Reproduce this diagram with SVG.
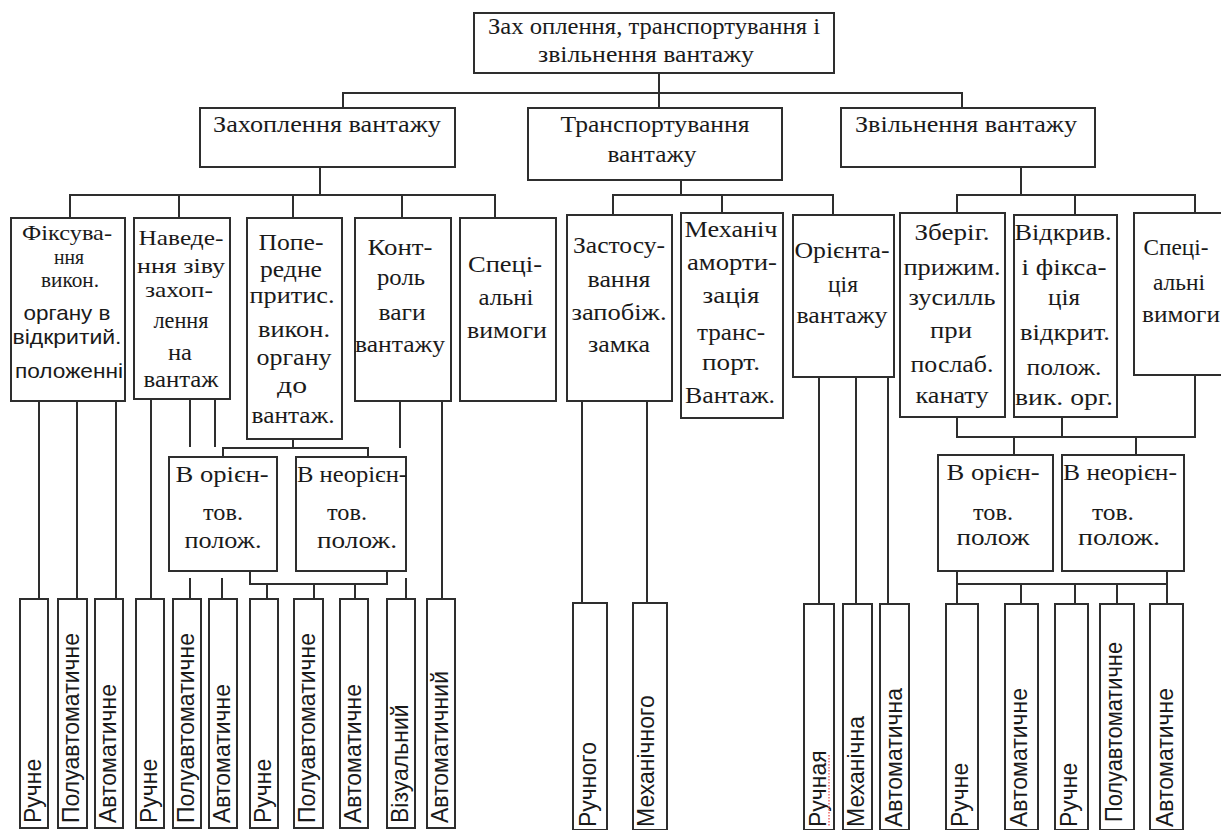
<svg xmlns="http://www.w3.org/2000/svg" width="1221" height="830" viewBox="0 0 1221 830">
<style>
.b{fill:#fff;stroke:#2e2e2e;stroke-width:2}
.c{fill:none;stroke:#2e2e2e;stroke-width:2}
.t{font-family:"Liberation Serif","Times New Roman","DejaVu Serif",serif;font-size:24px;fill:#1a1a1a;text-anchor:middle}
.k{font-size:21px}
.s{font-family:"Liberation Sans",Arial,sans-serif;font-size:21px;fill:#1a1a1a;text-anchor:middle}
.v{font-family:"Liberation Sans",Arial,sans-serif;font-size:23px;fill:#1a1a1a}
</style>
<rect width="1221" height="830" fill="#fff"/>
<g id="connectors">
<path class="c" d="M659,73V93M343,108V93H962V108M659,93V108"/>
<path class="c" d="M320,167V195M70,218V195H495V218M179,195V218M293,195V218M402,195V218"/>
<path class="c" d="M681,180V195M613,215V195H833V215M722,195V213"/>
<path class="c" d="M1021,167V195M957,213V195H1195V213M1075,195V215"/>
<path class="c" d="M39,401V599M77,401V599M116,401V599M151,399V599M190,399V447M215,399V447M190,578V599M222,578V599"/>
<path class="c" d="M293,439V448M223,457V448H368V457M250,571V584H387V571M267,584V599M314,584V599M355,584V599M406,578V599M400,401V448M442,401V599"/>
<path class="c" d="M582,401V603M647,401V603M819,377V604M856,377V604M888,377V604"/>
<path class="c" d="M957,417V437H1195V375M1062,417V437M1014,437V455M1136,437V455"/>
<path class="c" d="M957,571V604M957,584H1167V571M1021,584V604M1075,584V604M1117,584V604M1167,584V604"/>
</g>
<g id="root"><rect class="b" x="474" y="13" width="360" height="60"/>
<text class="t" x="654" y="34" textLength="332" lengthAdjust="spacingAndGlyphs">Зах оплення, транспортування і</text>
<text class="t" x="646" y="62" textLength="216" lengthAdjust="spacingAndGlyphs">звільнення вантажу</text></g>
<g id="capture"><rect class="b" x="200" y="108" width="255" height="59"/>
<text class="t" x="327" y="132" textLength="228" lengthAdjust="spacingAndGlyphs">Захоплення  вантажу</text></g>
<g id="transport"><rect class="b" x="528" y="108" width="254" height="72"/>
<text class="t" x="655" y="132" textLength="189" lengthAdjust="spacingAndGlyphs">Транспортування</text>
<text class="t" x="652" y="162" textLength="89" lengthAdjust="spacingAndGlyphs">вантажу</text></g>
<g id="release"><rect class="b" x="841" y="108" width="254" height="59"/>
<text class="t" x="966" y="132" textLength="222" lengthAdjust="spacingAndGlyphs">Звільнення вантажу</text></g>
<g id="n1"><rect class="b" x="11" y="218" width="114" height="183"/>
<text class="t k" x="67" y="240" textLength="90" lengthAdjust="spacingAndGlyphs">Фіксува-</text>
<text class="t k" x="69" y="264" textLength="30" lengthAdjust="spacingAndGlyphs">ння</text>
<text class="t k" x="70" y="287" textLength="58" lengthAdjust="spacingAndGlyphs">викон.</text>
<text class="s" x="67" y="320" textLength="87" lengthAdjust="spacingAndGlyphs">органу в</text>
<text class="s" x="67" y="344" textLength="109" lengthAdjust="spacingAndGlyphs">відкритий.</text>
<text class="s" x="69" y="378" textLength="108" lengthAdjust="spacingAndGlyphs">положенні</text></g>
<g id="n2"><rect class="b" x="134" y="218" width="96" height="181"/>
<text class="t k" x="181" y="245" textLength="85" lengthAdjust="spacingAndGlyphs">Наведе-</text>
<text class="t k" x="181" y="273" textLength="88" lengthAdjust="spacingAndGlyphs">ння зіву</text>
<text class="t k" x="179" y="297" textLength="68" lengthAdjust="spacingAndGlyphs">захоп-</text>
<text class="t" x="181" y="328" textLength="55" lengthAdjust="spacingAndGlyphs">лення</text>
<text class="t" x="180" y="360" textLength="24" lengthAdjust="spacingAndGlyphs">на</text>
<text class="t" x="181" y="387" textLength="75" lengthAdjust="spacingAndGlyphs">вантаж</text></g>
<g id="n3"><rect class="b" x="247" y="218" width="95" height="221"/>
<text class="t" x="291" y="250" textLength="65" lengthAdjust="spacingAndGlyphs">Попе-</text>
<text class="t" x="291" y="277" textLength="62" lengthAdjust="spacingAndGlyphs">редне</text>
<text class="t" x="292" y="303" textLength="85" lengthAdjust="spacingAndGlyphs">притис.</text>
<text class="t" x="294" y="337" textLength="72" lengthAdjust="spacingAndGlyphs">викон.</text>
<text class="t" x="294" y="365" textLength="75" lengthAdjust="spacingAndGlyphs">органу</text>
<text class="t" x="292" y="393" textLength="30" lengthAdjust="spacingAndGlyphs">до</text>
<text class="t" x="293" y="423" textLength="83" lengthAdjust="spacingAndGlyphs">вантаж.</text></g>
<g id="n4"><rect class="b" x="355" y="218" width="96" height="183"/>
<text class="t" x="400" y="255" textLength="65" lengthAdjust="spacingAndGlyphs">Конт-</text>
<text class="t" x="401" y="285" textLength="48" lengthAdjust="spacingAndGlyphs">роль</text>
<text class="t" x="402" y="320" textLength="47" lengthAdjust="spacingAndGlyphs">ваги</text>
<text class="t" x="400" y="352" textLength="90" lengthAdjust="spacingAndGlyphs">вантажу</text></g>
<g id="n5"><rect class="b" x="460" y="218" width="96" height="183"/>
<text class="t" x="505" y="272" textLength="74" lengthAdjust="spacingAndGlyphs">Спеці-</text>
<text class="t" x="506" y="305" textLength="55" lengthAdjust="spacingAndGlyphs">альні</text>
<text class="t" x="507" y="338" textLength="80" lengthAdjust="spacingAndGlyphs">вимоги</text></g>
<g id="n6"><rect class="b" x="567" y="215" width="105" height="186"/>
<text class="t" x="619" y="253" textLength="92" lengthAdjust="spacingAndGlyphs">Застосу-</text>
<text class="t" x="619" y="287" textLength="63" lengthAdjust="spacingAndGlyphs">вання</text>
<text class="t" x="619" y="320" textLength="95" lengthAdjust="spacingAndGlyphs">запобіж.</text>
<text class="t" x="619" y="352" textLength="62" lengthAdjust="spacingAndGlyphs">замка</text></g>
<g id="n7"><rect class="b" x="681" y="213" width="102" height="205"/>
<text class="t" x="731" y="237" textLength="93" lengthAdjust="spacingAndGlyphs">Механіч</text>
<text class="t" x="732" y="270" textLength="90" lengthAdjust="spacingAndGlyphs">аморти-</text>
<text class="t" x="731" y="303" textLength="57" lengthAdjust="spacingAndGlyphs">зація</text>
<text class="t" x="731" y="340" textLength="68" lengthAdjust="spacingAndGlyphs">транс-</text>
<text class="t" x="731" y="370" textLength="58" lengthAdjust="spacingAndGlyphs">порт.</text>
<text class="t" x="730" y="403" textLength="90" lengthAdjust="spacingAndGlyphs">Вантаж.</text></g>
<g id="n8"><rect class="b" x="793" y="215" width="101" height="162"/>
<text class="t" x="842" y="258" textLength="95" lengthAdjust="spacingAndGlyphs">Орієнта-</text>
<text class="t" x="843" y="292" textLength="30" lengthAdjust="spacingAndGlyphs">ція</text>
<text class="t" x="842" y="323" textLength="91" lengthAdjust="spacingAndGlyphs">вантажу</text></g>
<g id="n9"><rect class="b" x="900" y="213" width="105" height="204"/>
<text class="t" x="952" y="240" textLength="75" lengthAdjust="spacingAndGlyphs">Зберіг.</text>
<text class="t" x="952" y="275" textLength="97" lengthAdjust="spacingAndGlyphs">прижим.</text>
<text class="t" x="952" y="305" textLength="87" lengthAdjust="spacingAndGlyphs">зусилль</text>
<text class="t" x="951" y="338" textLength="42" lengthAdjust="spacingAndGlyphs">при</text>
<text class="t" x="952" y="372" textLength="83" lengthAdjust="spacingAndGlyphs">послаб.</text>
<text class="t" x="952" y="403" textLength="73" lengthAdjust="spacingAndGlyphs">канату</text></g>
<g id="n10"><rect class="b" x="1014" y="215" width="103" height="202"/>
<text class="t" x="1063" y="240" textLength="97" lengthAdjust="spacingAndGlyphs">Відкрив.</text>
<text class="t" x="1064" y="275" textLength="85" lengthAdjust="spacingAndGlyphs">і фікса-</text>
<text class="t" x="1064" y="305" textLength="32" lengthAdjust="spacingAndGlyphs">ція</text>
<text class="t" x="1065" y="340" textLength="90" lengthAdjust="spacingAndGlyphs">відкрит.</text>
<text class="t" x="1064" y="375" textLength="75" lengthAdjust="spacingAndGlyphs">полож.</text>
<text class="t" x="1064" y="405" textLength="98" lengthAdjust="spacingAndGlyphs">вик. орг.</text></g>
<g id="n11"><rect class="b" x="1134" y="213" width="96" height="162"/>
<text class="t" x="1176" y="255" textLength="65" lengthAdjust="spacingAndGlyphs">Спеці-</text>
<text class="t" x="1179" y="290" textLength="52" lengthAdjust="spacingAndGlyphs">альні</text>
<text class="t" x="1181" y="322" textLength="78" lengthAdjust="spacingAndGlyphs">вимоги</text></g>
<g id="o1"><rect class="b" x="169" y="457" width="108" height="114"/>
<text class="t" x="222" y="482" textLength="93" lengthAdjust="spacingAndGlyphs">В орієн-</text>
<text class="t" x="223" y="520" textLength="40" lengthAdjust="spacingAndGlyphs">тов.</text>
<text class="t" x="223" y="548" textLength="77" lengthAdjust="spacingAndGlyphs">полож.</text></g>
<g id="o2"><rect class="b" x="296" y="457" width="110" height="114"/>
<text class="t" x="352" y="482" textLength="110" lengthAdjust="spacingAndGlyphs">В неорієн-</text>
<text class="t" x="347" y="520" textLength="40" lengthAdjust="spacingAndGlyphs">тов.</text>
<text class="t" x="357" y="548" textLength="80" lengthAdjust="spacingAndGlyphs">полож.</text></g>
<g id="o3"><rect class="b" x="938" y="455" width="115" height="116"/>
<text class="t" x="993" y="480" textLength="93" lengthAdjust="spacingAndGlyphs">В орієн-</text>
<text class="t" x="993" y="520" textLength="40" lengthAdjust="spacingAndGlyphs">тов.</text>
<text class="t" x="993" y="545" textLength="73" lengthAdjust="spacingAndGlyphs">полож</text></g>
<g id="o4"><rect class="b" x="1062" y="455" width="122" height="116"/>
<text class="t" x="1120" y="480" textLength="114" lengthAdjust="spacingAndGlyphs">В неорієн-</text>
<text class="t" x="1113" y="520" textLength="42" lengthAdjust="spacingAndGlyphs">тов.</text>
<text class="t" x="1119" y="545" textLength="82" lengthAdjust="spacingAndGlyphs">полож.</text></g>
<g id="l1"><rect class="b" x="20" y="599" width="28" height="229"/><text class="v" transform="translate(41,823) rotate(-90)">Ручне</text></g>
<g id="l2"><rect class="b" x="58" y="599" width="29" height="229"/><text class="v" transform="translate(79,823) rotate(-90)">Полуавтоматичне</text></g>
<g id="l3"><rect class="b" x="95" y="599" width="28" height="229"/><text class="v" transform="translate(116,823) rotate(-90)">Автоматичне</text></g>
<g id="l4"><rect class="b" x="136" y="599" width="28" height="229"/><text class="v" transform="translate(157,823) rotate(-90)">Ручне</text></g>
<g id="l5"><rect class="b" x="173" y="599" width="28" height="229"/><text class="v" transform="translate(194,823) rotate(-90)">Полуавтоматичне</text></g>
<g id="l6"><rect class="b" x="209" y="599" width="28" height="229"/><text class="v" transform="translate(230,823) rotate(-90)">Автоматичне</text></g>
<g id="l7"><rect class="b" x="250" y="599" width="28" height="229"/><text class="v" transform="translate(271,823) rotate(-90)">Ручне</text></g>
<g id="l8"><rect class="b" x="294" y="599" width="29" height="229"/><text class="v" transform="translate(315,823) rotate(-90)">Полуавтоматичне</text></g>
<g id="l9"><rect class="b" x="340" y="599" width="28" height="229"/><text class="v" transform="translate(361,823) rotate(-90)">Автоматичне</text></g>
<g id="l10"><rect class="b" x="387" y="599" width="28" height="229"/><text class="v" transform="translate(408,823) rotate(-90)">Візуальний</text></g>
<g id="l11"><rect class="b" x="427" y="599" width="28" height="229"/><text class="v" transform="translate(448,823) rotate(-90)">Автоматичний</text></g>
<g id="l12"><rect class="b" x="573" y="603" width="34" height="227"/><text class="v" transform="translate(596,827) rotate(-90)">Ручного</text></g>
<g id="l13"><rect class="b" x="633" y="603" width="34" height="227"/><text class="v" transform="translate(654,827) rotate(-90)">Механічного</text></g>
<g id="l14"><rect class="b" x="804" y="604" width="30" height="226"/><text class="v" transform="translate(826,827) rotate(-90)">Ручная</text><path d="M829,755V827" stroke="#e66" stroke-width="1.5" stroke-dasharray="1.5,1.5" fill="none"/></g>
<g id="l15"><rect class="b" x="843" y="604" width="29" height="226"/><text class="v" transform="translate(864,827) rotate(-90)">Механічна</text></g>
<g id="l16"><rect class="b" x="880" y="604" width="29" height="226"/><text class="v" transform="translate(902,827) rotate(-90)">Автоматична</text></g>
<g id="l17"><rect class="b" x="946" y="604" width="32" height="226"/><text class="v" transform="translate(968,827) rotate(-90)">Ручне</text></g>
<g id="l18"><rect class="b" x="1005" y="604" width="33" height="226"/><text class="v" transform="translate(1027,827) rotate(-90)">Автоматичне</text></g>
<g id="l19"><rect class="b" x="1055" y="604" width="33" height="226"/><text class="v" transform="translate(1077,827) rotate(-90)">Ручне</text></g>
<g id="l20"><rect class="b" x="1100" y="604" width="34" height="226"/><text class="v" transform="translate(1122,822) rotate(-90)" textLength="180" lengthAdjust="spacingAndGlyphs">Полуавтоматичне</text></g>
<g id="l21"><rect class="b" x="1150" y="604" width="33" height="226"/><text class="v" transform="translate(1173,827) rotate(-90)">Автоматичне</text></g>
</svg>
